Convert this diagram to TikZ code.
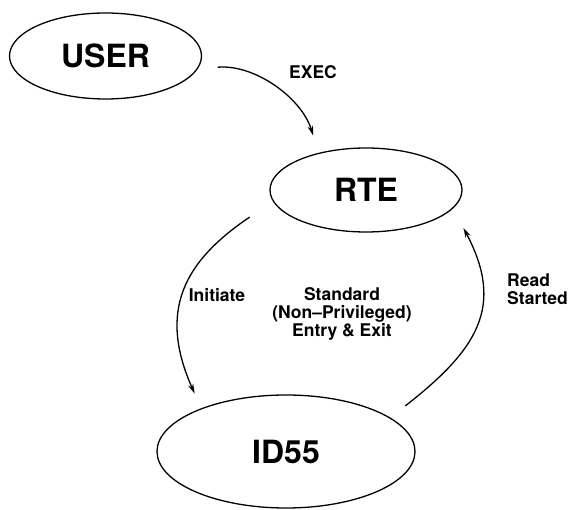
\documentclass[tikz,border=0pt]{standalone}
\usepackage{fontspec}
\setmainfont{TeX Gyre Heros}
\usetikzlibrary{shapes.geometric,arrows.meta}

\begin{document}
\begin{tikzpicture}[x=1pt, y=-1pt,
  state/.style={draw, ellipse, line width=1.3pt, inner sep=0pt, font=\fontsize{32}{36}\selectfont\bfseries},
  lbl/.style={font=\fontsize{17.5}{18}\selectfont\bfseries, align=center, inner sep=0pt},
  flow/.style={draw, line width=1.3pt, ->},
  >={Stealth[length=10pt,width=5.5pt]}]
  \useasboundingbox (0,0) rectangle (568,510);
  \node[state, minimum width=192pt, minimum height=86pt] (user) at (105.5,56) {USER};
  \node[state, minimum width=192pt, minimum height=84pt] (rte) at (366,190) {RTE};
  \node[state, minimum width=258pt, minimum height=113pt] (id55) at (286,451.5) {ID55};
  \path
  (user.-8) edge[flow, out=5, in=107, shorten <=20pt, shorten >=18pt] (rte.142)
  (rte.187) edge[flow, out=214, in=114, looseness=1.25, shorten <=28pt, shorten >=16pt] (id55.153)
  (id55.18) edge[flow, out=38, in=-62, looseness=1.3, shorten <=19pt, shorten >=22pt] (rte.-12)
  ;
  \node[lbl] (exec) at (313,72) {EXEC};
  \node[lbl] (initiate) at (217,295) {Initiate};
  \node[lbl] (standard) at (342,314) {Standard\\(Non--Privileged)\\Entry \& Exit};
  \node[lbl, align=left, anchor=west] (readstarted) at (507,289) {Read\\Started};
\end{tikzpicture}
\end{document}
